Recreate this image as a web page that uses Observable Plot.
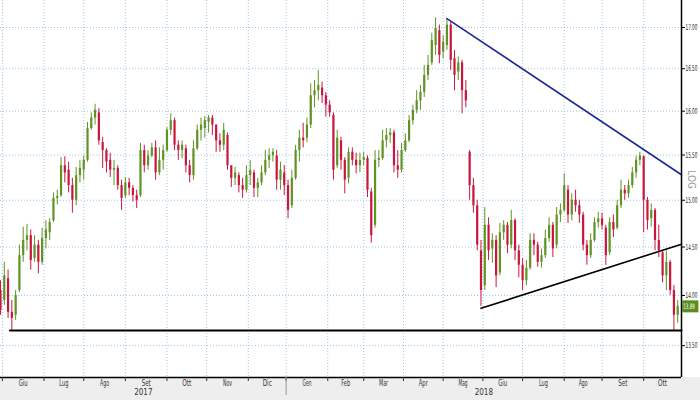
<!DOCTYPE html>
<html><head><meta charset="utf-8">
<script src="https://cdn.jsdelivr.net/npm/d3@7"></script>
<script src="https://cdn.jsdelivr.net/npm/@observablehq/plot@0.6"></script>
<style>
body{margin:0;background:#fff}
#chart svg{display:block}
</style>
</head><body><div id="chart"></div>
<script>
// ---- data (2 trading days per bar) ----
const barDays = 2;
const lastDay = 360;
const months = ["Giu","Lug","Ago","Set","Ott","Nov","Dic","Gen","Feb","Mar","Apr","Mag","Giu","Lug","Ago","Set","Ott"];
const monthStart = [1,23,44,66,88,109,131,151,173,192,213,234,255,276,298,318,340];
const years = ["2017","2018"];
const yearStart = [0,151];
const yTicks = [13.5,14,14.5,15,15.5,16,16.5,17];

const open = [14.05,13.95,14.17,13.83,13.80,14.05,14.41,14.57,14.62,14.38,
14.52,14.34,14.59,14.65,14.78,15.02,15.05,15.38,15.33,15.16,
15.00,15.27,15.33,15.44,15.80,15.92,15.98,15.64,15.55,15.44,
15.33,15.35,15.16,15.05,15.19,15.13,15.05,15.05,15.55,15.38,
15.49,15.58,15.30,15.44,15.55,15.78,15.89,15.61,15.55,15.57,
15.38,15.27,15.57,15.78,15.80,15.87,15.92,15.84,15.66,15.61,
15.72,15.38,15.24,15.27,15.16,15.11,15.27,15.30,15.13,15.19,
15.30,15.44,15.49,15.49,15.22,15.30,15.16,14.94,15.24,15.55,
15.69,15.69,15.84,16.18,16.24,16.27,16.18,16.07,15.95,15.38,
15.66,15.44,15.24,15.53,15.44,15.38,15.44,15.46,15.09,14.73,
15.44,15.46,15.66,15.72,15.75,15.38,15.33,15.55,15.66,15.89,
16.01,16.12,16.22,16.42,16.57,16.78,16.96,16.70,16.78,17.03,
16.62,16.46,16.57,16.24,15.53,15.16,14.94,14.46,14.10,14.73,
14.48,14.57,14.23,14.65,14.73,14.52,14.78,14.46,14.31,14.15,
14.28,14.57,14.52,14.34,14.41,14.59,14.73,14.52,14.84,14.89,
15.11,14.84,15.00,14.94,14.84,14.52,14.41,14.57,14.76,14.80,
14.70,14.44,14.76,14.70,14.94,15.11,15.07,15.16,15.30,15.44,
15.48,15.00,14.80,14.89,14.57,14.44,14.20,14.34,14.05,13.80];

const close = [13.85,14.20,13.83,13.77,14.00,14.41,14.57,14.62,14.36,14.52,
14.34,14.59,14.68,14.76,15.02,15.04,15.38,15.30,15.16,15.00,
15.27,15.35,15.44,15.80,15.92,16.01,15.66,15.55,15.42,15.33,
15.35,15.16,15.02,15.19,15.13,15.05,15.00,15.55,15.38,15.49,
15.58,15.30,15.44,15.55,15.78,15.89,15.61,15.55,15.61,15.38,
15.27,15.57,15.78,15.84,15.89,15.92,15.84,15.66,15.61,15.78,
15.38,15.24,15.30,15.16,15.11,15.27,15.33,15.13,15.19,15.30,
15.44,15.49,15.53,15.22,15.33,15.16,14.89,15.24,15.55,15.69,
15.66,15.84,16.18,16.24,16.30,16.18,16.07,15.98,15.33,15.69,
15.44,15.22,15.53,15.44,15.38,15.44,15.47,15.11,14.62,15.44,
15.46,15.66,15.72,15.75,15.38,15.33,15.55,15.66,15.89,16.01,
16.12,16.22,16.42,16.54,16.84,16.99,16.66,16.82,17.03,16.60,
16.42,16.57,16.24,16.12,15.16,14.94,14.52,14.05,14.73,14.46,
14.57,14.20,14.65,14.73,14.52,14.78,14.46,14.31,14.15,14.28,
14.57,14.52,14.34,14.41,14.59,14.73,14.48,14.84,14.89,15.16,
14.84,15.00,14.94,14.84,14.52,14.41,14.57,14.76,14.80,14.73,
14.41,14.76,14.68,14.94,15.11,15.07,15.16,15.30,15.44,15.49,
15.00,14.78,14.89,14.57,14.46,14.20,14.34,14.05,13.80,13.89];

const high = [14.15,14.34,14.26,13.95,14.05,14.52,14.71,14.74,14.68,14.62,
14.57,14.70,14.78,14.80,15.08,15.11,15.47,15.48,15.42,15.24,
15.36,15.44,15.49,15.87,15.98,16.08,16.03,15.70,15.57,15.52,
15.44,15.38,15.22,15.25,15.24,15.16,15.11,15.63,15.61,15.55,
15.63,15.66,15.58,15.61,15.81,15.97,15.92,15.66,15.66,15.61,
15.44,15.66,15.84,15.92,15.94,15.95,15.95,15.84,15.74,15.86,
15.75,15.38,15.36,15.30,15.24,15.38,15.44,15.33,15.24,15.38,
15.55,15.57,15.57,15.55,15.42,15.38,15.22,15.33,15.61,15.78,
15.86,15.92,16.32,16.36,16.48,16.34,16.22,16.12,15.98,15.78,
15.70,15.47,15.58,15.58,15.52,15.52,15.53,15.49,15.13,15.55,
15.55,15.78,15.80,15.80,15.78,15.55,15.63,15.74,15.95,16.07,
16.24,16.30,16.54,16.66,16.93,17.12,17.03,16.90,17.11,17.06,
16.72,16.64,16.60,16.36,15.55,15.24,15.00,14.57,14.92,14.81,
14.64,14.62,14.75,14.78,14.76,14.89,14.80,14.52,14.38,14.36,
14.64,14.64,14.55,14.48,14.68,14.81,14.76,14.92,14.96,15.29,
15.16,15.07,15.11,15.00,14.87,14.57,14.64,14.81,14.87,14.86,
14.73,14.81,14.84,15.00,15.22,15.16,15.22,15.36,15.49,15.53,
15.49,15.03,14.96,14.91,14.73,14.46,14.46,14.36,14.10,13.95];

const low = [13.80,13.90,13.77,13.65,13.75,14.03,14.34,14.46,14.26,14.34,
14.22,14.31,14.48,14.57,14.76,14.95,15.03,15.19,15.08,14.86,
14.94,15.19,15.22,15.42,15.78,15.84,15.61,15.35,15.30,15.25,
15.16,15.11,14.89,15.02,15.05,14.98,14.91,15.03,15.30,15.33,
15.47,15.22,15.27,15.33,15.53,15.72,15.55,15.44,15.46,15.30,
15.19,15.22,15.55,15.66,15.69,15.75,15.72,15.53,15.53,15.55,
15.33,15.14,15.16,15.08,15.02,15.08,15.16,15.03,15.03,15.16,
15.27,15.35,15.42,15.11,15.11,15.05,14.80,14.91,15.22,15.42,
15.58,15.64,15.80,16.04,16.12,16.09,15.93,15.93,15.22,15.35,
15.33,15.07,15.18,15.38,15.29,15.30,15.38,15.03,14.54,14.70,
15.36,15.44,15.58,15.63,15.30,15.24,15.30,15.53,15.64,15.84,
15.97,16.01,16.16,16.36,16.54,16.66,16.56,16.62,16.72,16.48,
16.24,16.36,15.97,16.04,15.00,14.86,14.46,13.89,14.05,14.36,
14.33,14.08,14.20,14.57,14.43,14.48,14.36,14.18,14.05,14.10,
14.26,14.41,14.29,14.28,14.38,14.55,14.39,14.48,14.76,14.87,
14.75,14.78,14.87,14.75,14.46,14.31,14.38,14.55,14.70,14.68,
14.31,14.41,14.60,14.68,14.91,15.00,15.02,15.13,15.24,15.38,
14.65,14.68,14.71,14.46,14.39,14.13,14.05,14.00,13.65,13.72];

// trend lines (day index, price)
const upperTrendDays = [236, 360];
const upperTrendPrices = [17.11, 15.28];
const lowerTrendDays = [254, 360];
const lowerTrendPrices = [13.87, 14.53];
const supportLevel = 13.65;
const supportStartDay = 5;

// ---- build tables ----
const bars = close.map((c, i) => ({t: i * barDays, o: open[i], h: high[i], l: low[i], c, up: c >= open[i]}));
const upper = upperTrendDays.map((t, i) => ({t, p: upperTrendPrices[i]}));
const lower = lowerTrendDays.map((t, i) => ({t, p: lowerTrendPrices[i]}));
const support = [{t: supportStartDay, p: supportLevel}, {t: lastDay, p: supportLevel}];
const monthEnds = monthStart.slice(1).concat([lastDay]);
const monthLabels = months.map((m, i) => ({t: (monthStart[i] + monthEnds[i]) / 2, m}));
const yearEnds = yearStart.slice(1).concat([lastDay]);
const yearLabels = years.map((y, i) => ({t: (yearStart[i] + yearEnds[i]) / 2, y}));
const lastClose = close[close.length - 1];

const UP = "#5f9324", DOWN = "#c8173f";
const yDomain = [13.192, 17.336];
const font = "'DejaVu Sans Condensed','Liberation Sans Narrow','Arial Narrow','DejaVu Sans',sans-serif";

const chart = Plot.plot({
  width: 700, height: 400,
  marginLeft: 0, marginRight: 19, marginTop: 0, marginBottom: 23,
  style: {fontFamily: font, fontSize: "8px", color: "#222",
          background: "linear-gradient(to bottom, #ffffff 377px, #eeeeee 377px)", overflow: "visible"},
  x: {type: "linear", domain: [0, lastDay], axis: null, label: null},
  y: {type: "log", domain: yDomain, axis: null, label: null},
  marks: [
    Plot.gridY({ticks: yTicks, stroke: "#9fc4e8", strokeOpacity: 1, strokeDasharray: "1,2"}),
    Plot.gridX({ticks: monthStart, stroke: "#9fc4e8", strokeOpacity: 1, strokeDasharray: "1,2"}),
    Plot.ruleX(bars, {x: "t", y1: "l", y2: "h", stroke: d => d.up ? UP : DOWN, strokeWidth: 1}),
    Plot.ruleX(bars, {x: "t", y1: "o", y2: "c", stroke: d => d.up ? UP : DOWN, strokeWidth: 2.2}),
    Plot.line(support, {x: "t", y: "p", stroke: "#000", strokeWidth: 2}),
    Plot.line(upper, {x: "t", y: "p", stroke: "#1c2a8e", strokeWidth: 1.6}),
    Plot.line(lower, {x: "t", y: "p", stroke: "#000", strokeWidth: 1.6}),
    Plot.ruleX([lastDay], {stroke: "#000", strokeWidth: 1.5}),
    Plot.ruleY([yDomain[0]], {stroke: "#000", strokeWidth: 1.5}),
    Plot.axisY({anchor: "right", ticks: yTicks, tickFormat: d => d.toFixed(2), tickSize: 3, tickPadding: 1, fontSize: 8, stroke: "#000", label: null}),
    Plot.axisX({anchor: "bottom", ticks: monthStart, tickFormat: () => "", tickSize: 4, stroke: "#333", label: null}),
    Plot.axisX({anchor: "bottom", ticks: [yearStart[1]], tickFormat: () => "", tickSize: 18, stroke: "#999", label: null}),
    Plot.text(monthLabels, {x: "t", text: "m", frameAnchor: "bottom", lineAnchor: "top", dy: 3, fontSize: 8, fill: "#333"}),
    Plot.text(yearLabels, {x: "t", text: "y", frameAnchor: "bottom", lineAnchor: "top", dy: 12, fontSize: 8, fill: "#333"}),
    Plot.text(["LOG"], {frameAnchor: "right", dx: 10, rotate: 90, fontSize: 10, fill: "#999"}),
    Plot.ruleY([lastClose], {x1: lastDay + 0.6, x2: lastDay + 9.2, stroke: "#5b8f1d", strokeWidth: 12}),
    Plot.text([lastClose], {x: lastDay + 0.9, y: d => d, text: d => d.toFixed(2), textAnchor: "start", fill: "#fff", fontSize: 7.5})
  ]
});
// condense the narrow right-hand labels horizontally so they fit the 19px strip, as in the reference
const svg = d3.select(chart);
function squeeze(sel, k) {
  sel.each(function() {
    const t = this.getAttribute("transform") || "";
    this.setAttribute("transform", (t + ` scale(${k},1)`).trim());
  });
}
squeeze(svg.selectAll('g[aria-label="y-axis tick label"] text'), 0.58);
const textGroups = svg.selectAll('g[aria-label="text"]').nodes();
squeeze(d3.select(textGroups[textGroups.length - 1]).selectAll("text"), 0.6);
svg.selectAll('g[aria-label="text"] text').filter(function(){ return /^[A-Z][a-z]{2}$/.test(this.textContent); })
  .attr("textLength", 9).attr("lengthAdjust", "spacingAndGlyphs");
document.getElementById("chart").append(chart);
</script>
</body></html>
